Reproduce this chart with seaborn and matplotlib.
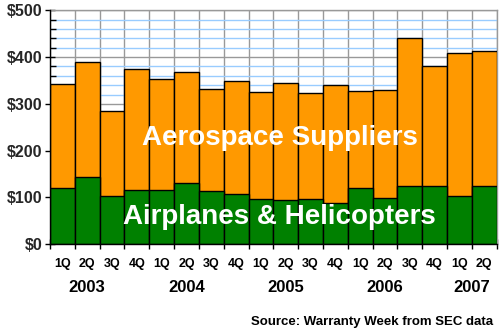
import matplotlib
matplotlib.use("Agg")
import matplotlib.pyplot as plt
from matplotlib.ticker import MultipleLocator, FixedLocator
import seaborn as sns
import pandas as pd
import numpy as np

# Quarterly warranty claims, millions of dollars
quarters = ["1Q", "2Q", "3Q", "4Q", "1Q", "2Q", "3Q", "4Q", "1Q", "2Q", "3Q", "4Q",
            "1Q", "2Q", "3Q", "4Q", "1Q", "2Q"]
years = ["2003", "2004", "2005", "2006", "2007"]
airplanes_helicopters = [120, 143, 103, 117, 115, 130, 113, 107, 96, 94, 96, 88,
                         120, 98, 124, 124, 103, 124]
aerospace_suppliers = [222, 246, 181, 257, 238, 238, 218, 241, 229, 250, 227, 252,
                       207, 231, 316, 258, 305, 288]

df = pd.DataFrame({
    "pos": range(len(quarters)),
    "airplanes": airplanes_helicopters,
    "suppliers": aerospace_suppliers,
})
df["total"] = df["airplanes"] + df["suppliers"]

sns.set_theme(style="white")
plt.rcParams["font.family"] = ["Liberation Sans", "DejaVu Sans"]
plt.rcParams["font.weight"] = "bold"

fig = plt.figure(figsize=(5, 3.34), dpi=100)
ax = fig.add_axes([0.1, 0.2686, 0.8934, 0.7006])

orange = "#FF9900"
green = "#008000"

sns.barplot(data=df, x="pos", y="total", color=orange, saturation=1, width=1,
            edgecolor="black", linewidth=1.0, ax=ax, native_scale=True, zorder=3)
sns.barplot(data=df, x="pos", y="airplanes", color=green, saturation=1, width=1,
            edgecolor="black", linewidth=1.0, ax=ax, native_scale=True, zorder=3)

n = len(quarters)
ax.set_xlim(-0.5, n - 0.5)
ax.set_ylim(0, 500)

# y axis: $100 majors, $20 minors
ax.yaxis.set_major_locator(FixedLocator(np.arange(0, 501, 100)))
ax.yaxis.set_minor_locator(MultipleLocator(20))
ax.set_yticklabels([f"${v}" for v in range(0, 501, 100)], fontweight="bold",
                   fontsize=11.5)
ax.tick_params(axis="y", which="major", direction="inout", length=7, width=1,
               color="black", pad=2, left=True)
ax.tick_params(axis="y", which="minor", direction="in", length=4, width=1,
               color="black", left=True)

# x axis: ticks at bar boundaries, quarter labels at bar centres
ax.xaxis.set_major_locator(FixedLocator(np.arange(-0.5, n, 1.0)))
ax.set_xticklabels([""] * (n + 1))
ax.tick_params(axis="x", which="major", direction="inout", length=7, width=1,
               color="black", bottom=True)
for i, q in enumerate(quarters):
    ax.text(i, -0.083, q, transform=ax.get_xaxis_transform(), ha="center",
            va="center", fontsize=9, fontweight="bold", color="black")

ax.set_xlabel("")
ax.set_ylabel("")

# grid
ax.set_axisbelow(True)
ax.grid(which="minor", axis="y", color="#99CCFF", linewidth=1, zorder=0)
ax.grid(which="major", axis="both", color="#999999", linewidth=1, zorder=1)

for side in ["top", "right"]:
    ax.spines[side].set_color("#999999")
    ax.spines[side].set_linewidth(1)
for side in ["left", "bottom"]:
    ax.spines[side].set_color("black")
    ax.spines[side].set_linewidth(1)
    ax.spines[side].set_zorder(5)

# year labels centred under each year's quarters
year_centres = [1.0, 5.0, 9.0, 13.0, 16.5]
for yr, xc in zip(years, year_centres):
    ax.text(xc, -0.185, yr, transform=ax.get_xaxis_transform(), ha="center",
            va="center", fontsize=12, fontweight="bold", color="black")

# series names inside the bars
ax.text(8.75, 227, "Aerospace Suppliers", ha="center", va="center",
        fontsize=20, fontweight="bold", color="white", zorder=6)
ax.text(8.75, 58, "Airplanes & Helicopters", ha="center", va="center",
        fontsize=20, fontweight="bold", color="white", zorder=6)

fig.text(0.986, 0.036, "Source: Warranty Week from SEC data", ha="right",
         va="center", fontsize=9.5, fontweight="bold", color="black")

fig.savefig("out.png", dpi=100, facecolor="white")
